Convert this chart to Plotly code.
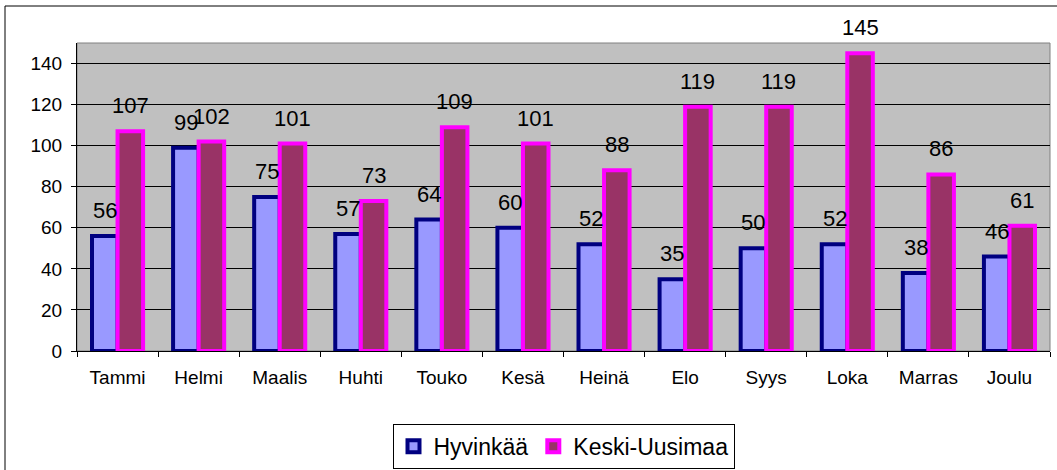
import plotly.graph_objects as go

months = ["Tammi", "Helmi", "Maalis", "Huhti", "Touko", "Kesä", "Heinä", "Elo", "Syys", "Loka", "Marras", "Joulu"]
hyvinkaa = [56, 99, 75, 57, 64, 60, 52, 35, 50, 52, 38, 46]
keski_uusimaa = [107, 102, 101, 73, 109, 101, 88, 119, 119, 145, 86, 61]

BARGAP = 0.37
half = (1 - BARGAP) / 4.0
FONT = "Liberation Sans, Arial"

fig = go.Figure()
fig.add_trace(go.Bar(
    name="Hyvinkää", x=months, y=hyvinkaa,
    marker=dict(color="#9999FF", line=dict(color="#000080", width=4)),
))
fig.add_trace(go.Bar(
    name="Keski-Uusimaa", x=months, y=keski_uusimaa,
    marker=dict(color="#993366", line=dict(color="#FF00FF", width=4)),
))

annotations = []
for i, (a, b) in enumerate(zip(hyvinkaa, keski_uusimaa)):
    for off, v in ((-half, a), (half, b)):
        annotations.append(dict(
            x=i + off, y=v, xref="x", yref="y", text=str(v), showarrow=False,
            yanchor="bottom", yshift=11, font=dict(size=22, color="black", family=FONT),
        ))

fig.update_layout(
    width=1057, height=470,
    barmode="group", bargap=BARGAP, bargroupgap=0,
    plot_bgcolor="#C0C0C0", paper_bgcolor="white",
    margin=dict(l=77, r=7, t=43, b=119, autoexpand=False),
    font=dict(family=FONT, size=19, color="black"),
    xaxis=dict(
        type="category", tickson="boundaries", ticks="outside", ticklen=5, tickcolor="black",
        showline=True, linecolor="black", linewidth=1, mirror=False,
        tickfont=dict(size=19), showgrid=False, ticklabelstandoff=9,
    ),
    yaxis=dict(
        range=[0, 150], dtick=20, ticks="outside", ticklen=5, tickcolor="black",
        showline=True, linecolor="black", linewidth=1,
        showgrid=True, gridcolor="black", gridwidth=1, zeroline=False,
        tickfont=dict(size=19), ticklabelstandoff=5,
    ),
    showlegend=True,
    legend=dict(
        orientation="h", x=0.5, xanchor="center", y=-0.236, yanchor="top",
        bordercolor="black", borderwidth=1, bgcolor="white",
        font=dict(size=23), itemwidth=30, tracegroupgap=0,
    ),
    annotations=annotations,
    shapes=[
        dict(type="rect", xref="paper", yref="paper", x0=0, x1=1, y0=0, y1=1,
             line=dict(color="#808080", width=1), layer="below"),
        dict(type="rect", xref="paper", yref="paper",
             x0=(5 - 77) / 973, x1=(1070 - 77) / 973,
             y0=(351 - 480) / 308, y1=(351 - 6) / 308,
             line=dict(color="black", width=1), layer="below"),
    ],
)

fig.write_html("out.html", config={"displayModeBar": False},
               post_script="document.body.style.margin='0';document.body.style.padding='0';")
